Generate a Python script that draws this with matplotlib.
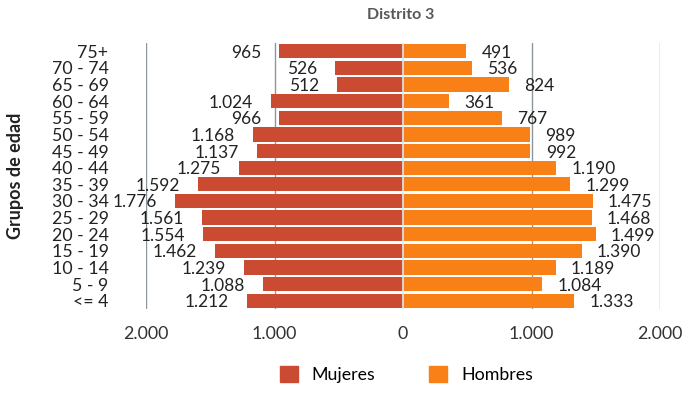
import matplotlib.pyplot as plt
from matplotlib.patches import Patch

plt.rcParams['font.family'] = ['Lato', 'DejaVu Sans']

# Datos (de abajo hacia arriba)
grupos = ['<= 4', '5 - 9', '10 - 14', '15 - 19', '20 - 24', '25 - 29', '30 - 34',
          '35 - 39', '40 - 44', '45 - 49', '50 - 54', '55 - 59', '60 - 64',
          '65 - 69', '70 - 74', '75+']
mujeres = [1212, 1088, 1239, 1462, 1554, 1561, 1776, 1592, 1275, 1137, 1168,
           966, 1024, 512, 526, 965]
hombres = [1333, 1084, 1189, 1390, 1499, 1468, 1475, 1299, 1190, 992, 989,
           767, 361, 824, 536, 491]
ticks = [-2000, -1000, 0, 1000, 2000]
tick_labels = ['2.000', '1.000', '0', '1.000', '2.000']

col_m = '#CB4A32'
col_h = '#F88016'


def fmt(v):
    return f'{v:,}'.replace(',', '.')


fig = plt.figure(figsize=(6.91, 3.98), dpi=100)
ax = fig.add_axes([146 / 691, 1 - 309 / 398, (660 - 146) / 691, (309 - 43) / 398])

y = list(range(len(grupos)))
for t in ticks:
    if t != 0:
        ax.axvline(t, color='#8C979C', lw=1, zorder=0)

ax.barh(y, [-v for v in mujeres], height=0.86, color=col_m, zorder=2)
ax.barh(y, hombres, height=0.86, color=col_h, zorder=2)
ax.axvline(0, color='#DCE8F0', lw=1.2, zorder=3)

for i in y:
    ax.annotate(fmt(mujeres[i]), (-mujeres[i], i), xytext=(-13, 0),
                textcoords='offset points', ha='right', va='center_baseline',
                fontsize=12.5, color='#222222', annotation_clip=False)
    ax.annotate(fmt(hombres[i]), (hombres[i], i), xytext=(11, 0),
                textcoords='offset points', ha='left', va='center_baseline',
                fontsize=12.5, color='#222222', annotation_clip=False)

ax.set_xlim(-2000, 2000)
ax.set_ylim(-0.5, len(grupos) - 0.5)
ax.set_xticks(ticks)
ax.set_xticklabels(tick_labels, fontsize=12.8, color='#333333')
ax.set_yticks(y)
ax.set_yticklabels(grupos, fontsize=12.8, color='#222222')
ax.tick_params(length=0)
ax.tick_params(axis='x', pad=12)
ax.tick_params(axis='y', pad=27)
for s in ax.spines.values():
    s.set_visible(False)

ax.set_ylabel('Grupos de edad', fontsize=13, fontweight='bold', color='#222222')
ax.yaxis.set_label_coords(-0.237, 0.5)

fig.text(0.58, 0.962, 'Distrito 3', ha='center', va='center', fontsize=11.5,
         fontweight='bold', color='#595959')

handles = [Patch(color=col_m, label='Mujeres'), Patch(color=col_h, label='Hombres')]
fig.legend(handles=handles, loc='center', bbox_to_anchor=(0.588, 0.058), ncol=2,
           frameon=False, fontsize=12.8, handlelength=1.0, handleheight=1.0,
           columnspacing=3.0, handletextpad=0.8)

fig.savefig('out.png', dpi=100)
